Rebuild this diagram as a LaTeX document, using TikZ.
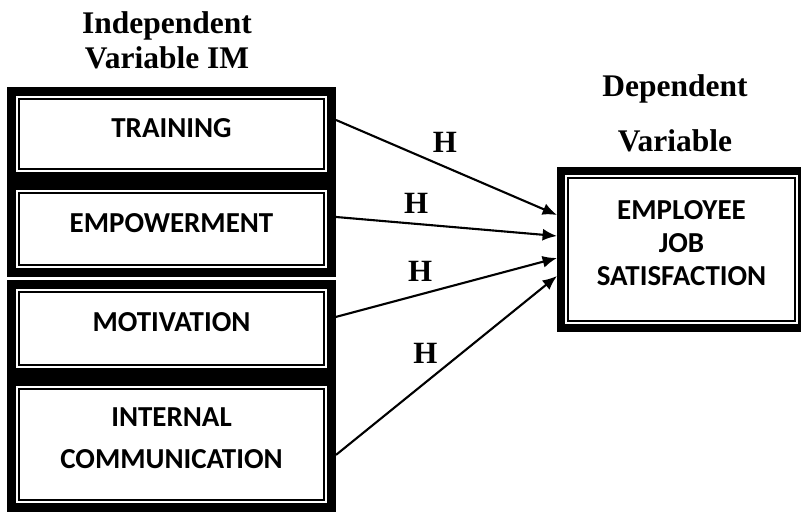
\documentclass[tikz,border=0pt]{standalone}
\usepackage{fontspec}
\setmainfont{Liberation Serif}
\newfontfamily\calibri{Carlito}
\usepackage{tikz}
\usetikzlibrary{
  arrows.meta
}
\tikzset{
  box/.style={
    draw,
    line width=0.225cm,
    inner sep=0pt,
    minimum width=8cm},
  boxtext/.style={
    font=\calibri\bfseries\fontsize{20.6}{23.5}\selectfont,
    align=center,
    yshift=0.15cm},
  head/.style={
    font=\bfseries\fontsize{22.4}{24.9}\selectfont,
    align=center},
  hlab/.style={
    font=\bfseries\fontsize{22}{24}\selectfont,
    inner sep=0pt},
  arr/.style={
    -{Latex[length=0.36cm, width=0.3cm]},
    line width=1.5pt}
  }

\begin{document}
\begin{tikzpicture}
      \useasboundingbox (0,0) rectangle (20.025,12.8);
      % headings
      \node [head] (ivh) at (4.175,11.8) {Independent\\Variable IM};
      \node [head] (dvh) at (16.875,9.956) {Dependent\\[0.5cm]Variable};
      % left boxes
      \node [box, minimum height=2.125cm, label={[boxtext]center:TRAINING}] (tr) at (4.2875,9.45) {};
      \node [box, minimum height=2.175cm, label={[boxtext]center:EMPOWERMENT}] (em) at (4.2875,7.075) {};
      \node [box, minimum height=2.2cm, label={[boxtext]center:MOTIVATION}] (mo) at (4.2875,4.5875) {};
      \node [box, minimum height=3.15cm, label={[boxtext]center:{INTERNAL\\[0.22cm]COMMUNICATION}}] (ic) at (4.2875,1.6875) {};
      % right box
      \node [box, line width=0.2cm, minimum width=6.025cm, minimum height=3.925cm,
             label={[boxtext, yshift=0.01cm]center:{EMPLOYEE\\JOB\\SATISFACTION}}] (js) at (17.0375,6.5625) {};
      % thin inner frames
      \foreach \n/\d in {tr/0.3, em/0.3, mo/0.3, ic/0.3, js/0.275}
        \draw [line width=1.4pt] ([shift={(\d,\d)}]\n.south west) rectangle ([shift={(-\d,-\d)}]\n.north east);
      % hypotheses
      \draw [arr] ([yshift=0.35cm]tr.east) to node [hlab, pos=0.493, above=0.325cm] {H} ([yshift=0.8625cm]js.west);
      \draw [arr] ([yshift=0.3cm]em.east) to node [hlab, pos=0.363, above=0.225cm] {H} ([yshift=0.3375cm]js.west);
      \draw [arr] ([yshift=0.29cm]mo.east) to node [hlab, pos=0.381, above=0.29cm] {H} ([yshift=-0.2125cm]js.west);
      \draw [arr] ([yshift=-0.26cm]ic.east) to node [hlab, pos=0.404, above=0.44cm] {H} ([yshift=-0.6625cm]js.west);
    \end{tikzpicture}
\end{document}
